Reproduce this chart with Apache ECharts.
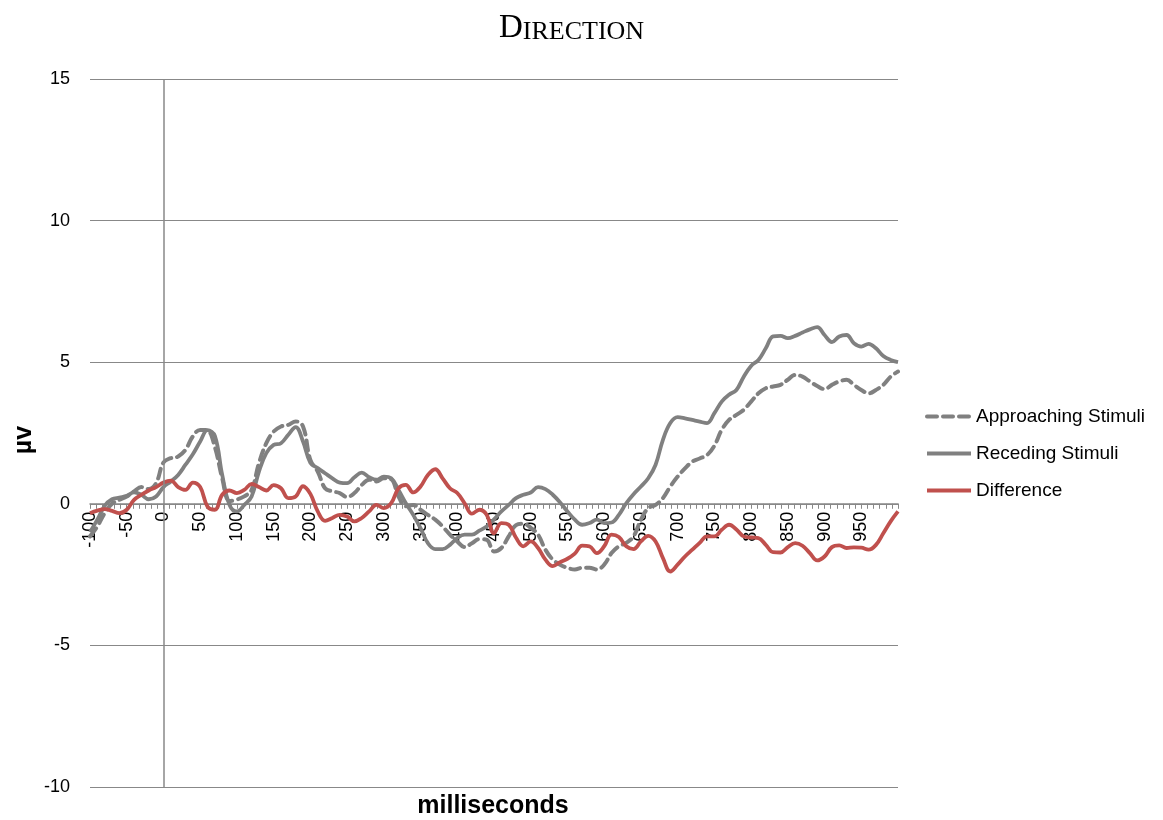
<!DOCTYPE html>
<html>
<head>
<meta charset="utf-8">
<title>Direction</title>
<script src="https://cdn.jsdelivr.net/npm/echarts@6/dist/echarts.min.js"></script>
<style>
  html, body { margin: 0; padding: 0; background: #fff; }
  #main { width: 1163px; height: 820px; }
</style>
</head>
<body>
<div id="main"></div>
<script>
// time points, ms (-100 .. 1000 every 10 ms)
var times = [];
for (var t = -100; t <= 1000; t += 10) times.push(t);

// Approaching Stimuli (dashed grey)
var approaching = [
  -1.15, -0.8, -0.33, 0, 0.14, 0.26, 0.44, 0.59, 0.52, 0.73,
  1.46, 1.61, 1.67, 1.91, 2.38, 2.61, 2.59, 2.0, 0.9, 0.1,
  0.15, 0.26, 0.49, 1.44, 2.14, 2.55, 2.73, 2.79, 2.91, 2.73,
  1.55, 1.14, 0.55, 0.44, 0.38, 0.24, 0.38, 0.67, 0.85, 0.79,
  0.9, 0.87, 0.26, -0.09, -0.04, -0.21, -0.39, -0.56, -0.8, -1.09,
  -1.33, -1.53, -1.39, -1.25, -1.27, -1.68, -1.56, -1.15, -0.75, -0.7,
  -0.85, -1.09, -1.62, -1.97, -2.15, -2.26, -2.32, -2.26, -2.26, -2.32,
  -2.15, -1.74, -1.5, -1.38, -1.15, -0.56, -0.15, -0.04, 0.2, 0.61,
  0.96, 1.25, 1.49, 1.6, 1.72, 2.05, 2.61, 2.96, 3.14, 3.32,
  3.61, 3.9, 4.08, 4.14, 4.2, 4.38, 4.55, 4.49, 4.32, 4.16,
  4.05, 4.2, 4.32, 4.38, 4.2, 4.02, 3.9, 4.02, 4.2, 4.49,
  4.67
];

// Receding Stimuli (solid grey)
var receding = [
  -1.0, -0.56, -0.07, 0.16, 0.22, 0.28, 0.4, 0.32, 0.16, 0.26,
  0.59, 0.79, 1.02, 1.38, 1.75, 2.2, 2.6, 2.4, 1.02, -0.04,
  -0.27, -0.04, 0.26, 1.14, 1.79, 2.08, 2.14, 2.44, 2.71, 2.2,
  1.45, 1.26, 1.08, 0.9, 0.75, 0.73, 0.94, 1.1, 0.94, 0.85,
  0.96, 0.9, 0.49, 0.02, -0.39, -0.86, -1.39, -1.6, -1.6, -1.45,
  -1.21, -1.09, -1.09, -0.95, -0.8, -0.55, -0.27, -0.04, 0.2, 0.32,
  0.4, 0.59, 0.52, 0.32, 0.05, -0.27, -0.56, -0.74, -0.68, -0.56,
  -0.68, -0.66, -0.39, 0.02, 0.34, 0.61, 0.9, 1.38, 2.26, 2.85,
  3.06, 3.02, 2.96, 2.9, 2.85, 3.2, 3.61, 3.85, 4.02, 4.49,
  4.87, 5.08, 5.49, 5.91, 5.93, 5.85, 5.93, 6.05, 6.16, 6.24,
  5.96, 5.71, 5.91, 5.96, 5.67, 5.55, 5.65, 5.49, 5.22, 5.08,
  5.0
];

// Difference (red)
var difference = [
  -0.33, -0.24, -0.19, -0.25, -0.33, -0.21, 0.14, 0.32, 0.47, 0.59,
  0.75, 0.82, 0.59, 0.49, 0.75, 0.59, -0.1, -0.21, 0.32, 0.47,
  0.38, 0.49, 0.7, 0.59, 0.47, 0.66, 0.55, 0.2, 0.26, 0.62,
  0.35, -0.27, -0.6, -0.5, -0.39, -0.45, -0.62, -0.5, -0.27, -0.04,
  -0.15, 0.02, 0.55, 0.67, 0.4, 0.61, 1.02, 1.22, 0.9, 0.55,
  0.38, 0.02, -0.35, -0.21, -0.39, -1.04, -0.68, -0.74, -1.2, -1.5,
  -1.33, -1.56, -1.97, -2.2, -2.06, -1.94, -1.76, -1.48, -1.5, -1.74,
  -1.5, -1.09, -1.17, -1.5, -1.6, -1.33, -1.13, -1.33, -1.92, -2.39,
  -2.15, -1.86, -1.62, -1.38, -1.15, -1.15, -0.92, -0.74, -0.91, -1.15,
  -1.19, -1.21, -1.45, -1.71, -1.72, -1.53, -1.39, -1.48, -1.74, -2.0,
  -1.86, -1.53, -1.47, -1.56, -1.54, -1.55, -1.62, -1.45, -1.04, -0.62,
  -0.27
];

function pairs(vals) {
  return times.map(function (t, i) { return [t, vals[i]]; });
}

var font = '"Liberation Sans", Arial, Helvetica, sans-serif';
var serif = '"Liberation Serif", "DejaVu Serif", serif';
var grey = '#808080';
var red = '#C0504D';

// y axis: -10..15 over 708px, so 0 sits 283px above the bottom edge
var zeroOffset = -708 * 10 / 25;

var chart = echarts.init(document.getElementById('main'));
var option = {
  backgroundColor: '#fff',
  animation: false,
  title: {
    text: '{a|D}{b|IRECTION}',
    left: 494,
    top: 6,
    textStyle: {
      fontWeight: 'normal',
      rich: {
        a: { fontSize: 33, fontFamily: serif, fontWeight: 'normal', color: '#000', verticalAlign: 'bottom', lineHeight: 34 },
        b: { fontSize: 26, fontFamily: serif, fontWeight: 'normal', color: '#000', verticalAlign: 'bottom', lineHeight: 34 }
      }
    }
  },
  legend: {
    orient: 'vertical',
    left: 920,
    top: 402,
    itemWidth: 44,
    itemHeight: 12,
    itemGap: 18,
    itemStyle: { opacity: 0 },
    lineStyle: { width: 4 },
    textStyle: { fontSize: 19, color: '#000', fontFamily: font },
    data: ['Approaching Stimuli', 'Receding Stimuli', 'Difference']
  },
  grid: { left: 90, right: 265, top: 79, bottom: 33, outerBoundsMode: 'none' },
  xAxis: {
    type: 'value',
    min: -100,
    max: 1000,
    interval: 50,
    offset: zeroOffset,
    axisLine: { onZero: false, lineStyle: { color: '#888', width: 1.5 } },
    axisTick: { show: true, length: 5, lineStyle: { color: '#888' } },
    minorTick: { show: true, splitNumber: 6, length: 5, lineStyle: { color: '#888' } },
    splitLine: { show: false },
    axisLabel: {
      rotate: 90,
      fontSize: 18,
      color: '#000',
      fontFamily: font,
      margin: 8,
      showMaxLabel: false
    }
  },
  yAxis: {
    type: 'value',
    min: -10,
    max: 15,
    interval: 5,
    axisLine: { show: false, onZero: false },
    axisTick: { show: false },
    splitLine: { lineStyle: { color: '#888', width: 1 } },
    axisLabel: { fontSize: 18, color: '#000', fontFamily: font, margin: 20 }
  },
  graphic: [
    {
      type: 'text',
      x: 24, y: 440,
      rotation: Math.PI / 2,
      style: { text: 'µv', font: 'bold 25px ' + font, fill: '#000', align: 'center', verticalAlign: 'middle' }
    },
    {
      type: 'text',
      x: 493, y: 806,
      style: { text: 'milliseconds', font: 'bold 25px ' + font, fill: '#000', align: 'center', verticalAlign: 'middle' }
    }
  ],
  series: [
    {
      name: 'Approaching Stimuli',
      type: 'line',
      data: pairs(approaching),
      symbol: 'none',
      smooth: 0.4,
      color: grey,
      lineStyle: { color: grey, width: 4, type: [10, 6], cap: 'round' },
      markLine: {
        silent: true,
        symbol: 'none',
        label: { show: false },
        lineStyle: { color: '#888', width: 1.5, type: 'solid' },
        data: [{ xAxis: 0 }]
      }
    },
    {
      name: 'Receding Stimuli',
      type: 'line',
      data: pairs(receding),
      symbol: 'none',
      smooth: 0.4,
      color: grey,
      lineStyle: { color: grey, width: 3.8 }
    },
    {
      name: 'Difference',
      type: 'line',
      data: pairs(difference),
      symbol: 'none',
      smooth: 0.4,
      color: red,
      lineStyle: { color: red, width: 3.8 }
    }
  ]
};
chart.setOption(option);
</script>
</body>
</html>
